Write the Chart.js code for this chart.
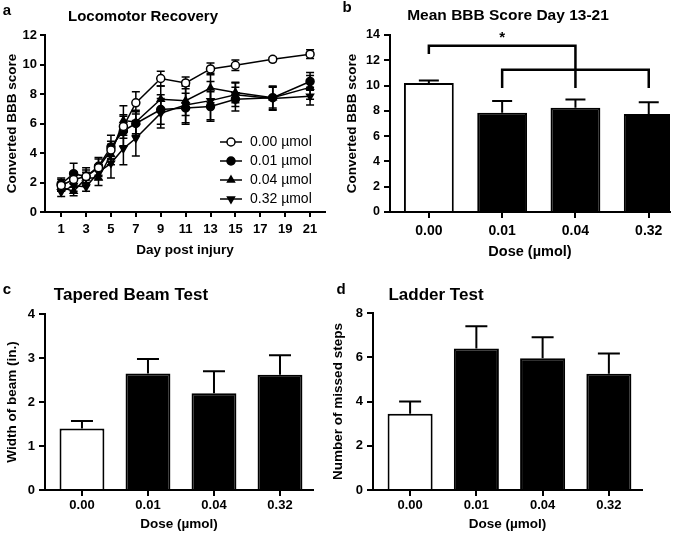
<!DOCTYPE html>
<html lang="en">
<head>
<meta charset="UTF-8">
<title>Locomotor recovery and behavioural tests</title>
<script src="https://cdn.jsdelivr.net/npm/chart.js@4"></script>
<style>
    body { margin: 0; background: #fff; }
    #page { position: relative; width: 685px; height: 539px; overflow: hidden;
            font-family: 'Liberation Sans', Arial, sans-serif; font-weight: bold; color: #000; }
    canvas { position: absolute; }
    .lbl { position: absolute; white-space: nowrap; transform: translate(-50%, -50%); }
</style>
</head>
<body>
<div id="page">
    <canvas id="chartA" width="335" height="262" style="left:0;top:0"></canvas>
    <canvas id="chartB" width="345" height="265" style="left:340px;top:0"></canvas>
    <canvas id="chartC" width="330" height="266" style="left:0;top:270px"></canvas>
    <canvas id="chartD" width="359" height="266" style="left:326px;top:270px"></canvas>

    <div class="lbl" style="left:7px;top:9px;font-size:15px">a</div>
    <div class="lbl" style="left:143px;top:15px;font-size:15px">Locomotor Recovery</div>
    <div class="lbl" style="left:347px;top:6px;font-size:15px">b</div>
    <div class="lbl" style="left:508px;top:15px;font-size:15.5px">Mean BBB Score Day 13-21</div>
    <div class="lbl" style="left:7px;top:288px;font-size:15px">c</div>
    <div class="lbl" style="left:131px;top:295px;font-size:17px">Tapered Beam Test</div>
    <div class="lbl" style="left:341px;top:288px;font-size:15px">d</div>
    <div class="lbl" style="left:436px;top:295px;font-size:17px">Ladder Test</div>
</div>

<script>
    // ---- data ----
    var days = [1, 2, 3, 4, 5, 6, 7, 9, 11, 13, 15, 18, 21];
    var dayTicks = [1, 3, 5, 7, 9, 11, 13, 15, 17, 19, 21];
    var doseLabels = ['0.00', '0.01', '0.04', '0.32'];
    var legendLabels = ['0.00 µmol', '0.01 µmol', '0.04 µmol', '0.32 µmol'];

    // panel a: BBB score per day (mean and SEM)
    var bbb000 = [1.8, 2.2, 2.4, 3.0, 4.2, 5.8, 7.4, 9.05, 8.75, 9.7, 9.95, 10.35, 10.7];
    var bbb000Sem = [0.4, 0.5, 0.45, 0.6, 0.6, 0.8, 0.75, 0.5, 0.4, 0.4, 0.35, 0.15, 0.3];
    var bbb001 = [1.9, 2.6, 2.4, 3.1, 4.4, 5.5, 6.0, 6.95, 7.05, 7.15, 7.65, 7.75, 8.85];
    var bbb001Sem = [0.4, 0.7, 0.6, 0.6, 0.8, 1.0, 0.8, 1.0, 1.0, 1.0, 0.8, 0.7, 0.6];
    var bbb004 = [1.7, 1.4, 2.3, 2.3, 3.9, 6.2, 6.1, 7.65, 7.55, 8.4, 8.1, 7.75, 8.45];
    var bbb004Sem = [0.3, 0.3, 0.4, 0.5, 0.7, 1.0, 0.8, 0.9, 1.0, 1.0, 0.7, 0.8, 0.8];
    var bbb032 = [1.35, 1.8, 1.7, 2.7, 3.3, 4.3, 5.0, 6.7, 7.25, 7.55, 7.95, 7.7, 7.85];
    var bbb032Sem = [0.3, 0.4, 0.3, 0.5, 1.0, 1.1, 1.2, 1.0, 1.3, 1.3, 0.8, 0.8, 0.6];

    // panel b: mean BBB score day 13-21
    var bbbMean = [10.2, 7.85, 8.25, 7.75];
    var bbbMeanSem = [0.2, 0.93, 0.65, 0.93];
    // significance brackets (category indices, bracket height, leg ends)
    var sigBrackets = [
        { from: 0, to: 2, top: 13.15, fromEnd: 12.5, toEnd: 9.8 },
        { from: 1, to: 3, top: 11.25, fromEnd: 9.8, toEnd: 9.8 }
    ];
    var sigStar = { at: 1, value: 13.8, text: '*' };

    // panel c: tapered beam
    var beamWidth = [1.4, 2.65, 2.2, 2.62];
    var beamWidthSem = [0.17, 0.33, 0.5, 0.44];

    // panel d: ladder test
    var missedSteps = [3.45, 6.4, 5.95, 5.25];
    var missedStepsSem = [0.55, 1.0, 0.95, 0.92];

    // ---- common style ----
    var FONT = "'Liberation Sans', Arial, sans-serif";
    Chart.defaults.font.family = FONT;
    Chart.defaults.font.weight = 'bold';
    Chart.defaults.color = '#000';

    function axisGrid(len) {
        return { drawOnChartArea: false, drawTicks: true, tickLength: len, color: '#000', lineWidth: 2 };
    }

    // error bars, drawn under the marks
    function makeErrorBars(cap, upOnly, width) {
        return {
            id: 'errorBars',
            beforeDatasetsDraw: function (chart) {
                var ctx = chart.ctx;
                var yScale = chart.scales.y;
                ctx.save();
                ctx.strokeStyle = '#000';
                ctx.lineWidth = width;
                chart.data.datasets.forEach(function (ds, di) {
                    if (!ds.errors) return;
                    var meta = chart.getDatasetMeta(di);
                    meta.data.forEach(function (el, i) {
                        var d = ds.data[i];
                        var v = typeof d === 'object' ? d.y : d;
                        var yTop = yScale.getPixelForValue(v + ds.errors[i]);
                        var yBot = yScale.getPixelForValue(upOnly ? v : v - ds.errors[i]);
                        ctx.beginPath();
                        ctx.moveTo(el.x, yTop);
                        ctx.lineTo(el.x, yBot);
                        ctx.moveTo(el.x - cap, yTop);
                        ctx.lineTo(el.x + cap, yTop);
                        if (!upOnly) {
                            ctx.moveTo(el.x - cap, yBot);
                            ctx.lineTo(el.x + cap, yBot);
                        }
                        ctx.stroke();
                    });
                });
                ctx.restore();
            }
        };
    }

    // legend inside panel a
    var insideLegend = {
        id: 'insideLegend',
        afterDraw: function (chart) {
            var ctx = chart.ctx, area = chart.chartArea;
            ctx.save();
            chart.data.datasets.forEach(function (ds, i) {
                var y = area.bottom - 13 - (3 - i) * 19;
                var x0 = area.right - 105;
                ctx.strokeStyle = '#000';
                ctx.lineWidth = 1.5;
                ctx.beginPath();
                ctx.moveTo(x0, y);
                ctx.lineTo(x0 + 22, y);
                ctx.stroke();
                ctx.fillStyle = ds.pointBackgroundColor;
                ctx.strokeStyle = ds.pointBorderColor;
                ctx.lineWidth = ds.pointBorderWidth;
                Chart.helpers.drawPoint(ctx, {
                    pointStyle: ds.pointStyle, rotation: ds.pointRotation || 0,
                    radius: ds.pointRadius, borderWidth: ds.pointBorderWidth
                }, x0 + 11, y);
                ctx.fillStyle = '#000';
                ctx.font = '14px ' + FONT;
                ctx.textBaseline = 'middle';
                ctx.textAlign = 'left';
                ctx.fillText(legendLabels[i], x0 + 30, y);
            });
            ctx.restore();
        }
    };

    // significance brackets for panel b
    var brackets = {
        id: 'brackets',
        afterDraw: function (chart) {
            var ctx = chart.ctx, x = chart.scales.x, y = chart.scales.y;
            ctx.save();
            ctx.strokeStyle = '#000';
            ctx.lineWidth = 2.5;
            sigBrackets.forEach(function (b) {
                ctx.beginPath();
                ctx.moveTo(x.getPixelForValue(b.from), y.getPixelForValue(b.fromEnd));
                ctx.lineTo(x.getPixelForValue(b.from), y.getPixelForValue(b.top));
                ctx.lineTo(x.getPixelForValue(b.to), y.getPixelForValue(b.top));
                ctx.lineTo(x.getPixelForValue(b.to), y.getPixelForValue(b.toEnd));
                ctx.stroke();
            });
            ctx.fillStyle = '#000';
            ctx.font = 'bold 15px ' + FONT;
            ctx.textAlign = 'center';
            ctx.textBaseline = 'middle';
            ctx.fillText(sigStar.text, x.getPixelForValue(sigStar.at), y.getPixelForValue(sigStar.value));
            ctx.restore();
        }
    };

    // ---- panel a: line chart ----
    function lineSet(label, values, sem, style, fill, rotation) {
        return {
            label: label,
            data: days.map(function (d, i) { return { x: d, y: values[i] }; }),
            errors: sem,
            borderColor: '#000',
            borderWidth: 1.5,
            pointStyle: style,
            pointRotation: rotation || 0,
            pointRadius: 4,
            pointBackgroundColor: fill,
            pointBorderColor: '#000',
            pointBorderWidth: 1.5,
            tension: 0
        };
    }

    new Chart(document.getElementById('chartA'), {
        type: 'line',
        data: {
            datasets: [
                lineSet(legendLabels[0], bbb000, bbb000Sem, 'circle', '#fff'),
                lineSet(legendLabels[1], bbb001, bbb001Sem, 'circle', '#000'),
                lineSet(legendLabels[2], bbb004, bbb004Sem, 'triangle', '#000'),
                lineSet(legendLabels[3], bbb032, bbb032Sem, 'triangle', '#000', 180)
            ]
        },
        options: {
            responsive: false,
            animation: false,
            devicePixelRatio: 1,
            layout: { padding: { top: 35, right: 10, left: 0, bottom: 0 } },
            plugins: { legend: { display: false }, tooltip: { enabled: false } },
            scales: {
                x: {
                    type: 'linear', min: -0.3, max: 22.2,
                    afterFit: function (s) { s.height = 50; },
                    afterBuildTicks: function (s) { s.ticks = dayTicks.map(function (v) { return { value: v }; }); },
                    grid: axisGrid(5),
                    border: { color: '#000', width: 2 },
                    ticks: { autoSkip: false, maxRotation: 0, padding: 5, font: { size: 13 } },
                    title: { display: true, text: 'Day post injury', font: { size: 13.5 } }
                },
                y: {
                    min: 0, max: 12,
                    afterFit: function (s) { s.width = 45; },
                    grid: axisGrid(5),
                    border: { color: '#000', width: 2 },
                    ticks: { stepSize: 2, padding: 3, font: { size: 13 } },
                    title: { display: true, text: 'Converted BBB score', font: { size: 13.5 } }
                }
            }
        },
        plugins: [makeErrorBars(4, false, 1.5), insideLegend]
    });

    // ---- panels b, c, d: bar charts ----
    function barChart(id, values, sem, opts, extraPlugins) {
        return new Chart(document.getElementById(id), {
            type: 'bar',
            data: {
                datasets: [{
                    data: values.map(function (v, i) { return { x: i, y: v }; }),
                    errors: sem,
                    backgroundColor: ['#fff', '#000', '#000', '#000'],
                    borderColor: '#000',
                    borderWidth: 2,
                    barPercentage: 0.68,
                    categoryPercentage: 1
                }]
            },
            options: {
                responsive: false,
                animation: false,
                devicePixelRatio: 1,
                layout: { padding: { top: opts.top, right: opts.right, left: 0, bottom: 0 } },
                plugins: { legend: { display: false }, tooltip: { enabled: false } },
                scales: {
                    x: {
                        type: 'linear', min: opts.xMin, max: opts.xMax,
                        offset: false,
                        afterFit: function (s) { s.height = opts.xHeight; },
                        afterBuildTicks: function (s) { s.ticks = doseLabels.map(function (l, i) { return { value: i }; }); },
                        grid: Object.assign(axisGrid(6), { offset: false }),
                        border: { color: '#000', width: 2 },
                        ticks: {
                            autoSkip: false, maxRotation: 0, padding: opts.xPad, font: { size: opts.xTick },
                            callback: function (v) { return doseLabels[v]; }
                        },
                        title: { display: true, text: 'Dose (µmol)', font: { size: opts.xTitle } }
                    },
                    y: {
                        min: 0, max: opts.yMax,
                        afterFit: function (s) { s.width = opts.yWidth; },
                        grid: axisGrid(6),
                        border: { color: '#000', width: 2 },
                        ticks: { stepSize: opts.yStep, padding: 4, font: { size: opts.yTick } },
                        title: { display: true, text: opts.yTitle, font: { size: 13.5 } }
                    }
                }
            },
            plugins: [makeErrorBars(opts.cap, true, 2)].concat(extraPlugins || [])
        });
    }

    barChart('chartB', bbbMean, bbbMeanSem, {
        top: 35, right: 15, xMin: -0.53, xMax: 3.29, xHeight: 53, xPad: 5, xTick: 14, xTitle: 14.5,
        yMax: 14, yStep: 2, yWidth: 50, yTick: 12.5, yTitle: 'Converted BBB score', cap: 10
    }, [brackets]);

    barChart('chartC', beamWidth, beamWidthSem, {
        top: 44, right: 17, xMin: -0.56, xMax: 3.5, xHeight: 46, xPad: 2, xTick: 13, xTitle: 13.5,
        yMax: 4, yStep: 1, yWidth: 45, yTick: 13, yTitle: 'Width of beam (in.)', cap: 11
    });

    barChart('chartD', missedSteps, missedStepsSem, {
        top: 43, right: 43, xMin: -0.56, xMax: 3.5, xHeight: 46, xPad: 2, xTick: 13, xTitle: 13.5,
        yMax: 8, yStep: 2, yWidth: 47, yTick: 13, yTitle: 'Number of missed steps', cap: 11
    });
</script>
</body>
</html>
